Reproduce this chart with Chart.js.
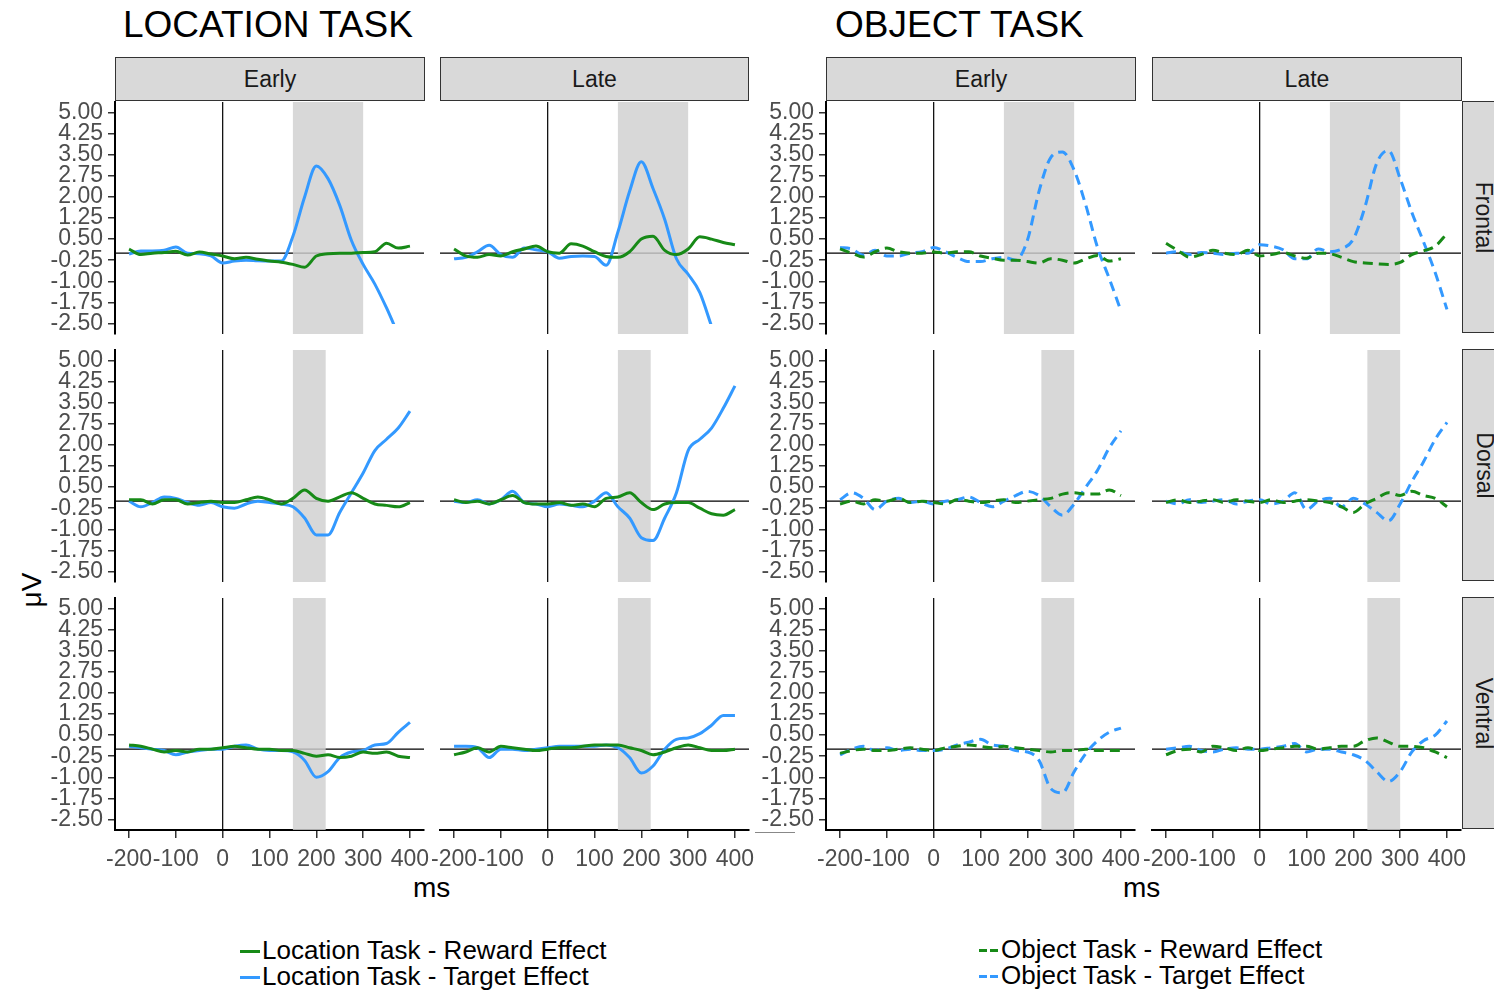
<!DOCTYPE html>
<html>
<head>
<meta charset="utf-8">
<script src="https://cdn.jsdelivr.net/npm/chart.js@4"></script>
<style>
  body { margin: 0; width: 1494px; height: 991px; overflow: hidden; background: #fff; position: relative;
         font-family: "Liberation Sans", Arial, sans-serif; }
  canvas { position: absolute; }
  .title { position: absolute; font-size: 37px; line-height: 1; color: #000; }
  .strip { position: absolute; box-sizing: border-box; background: #d9d9d9; border: 1.5px solid #333;
           font-size: 23px; color: #1a1a1a; display: flex; align-items: center; justify-content: center; }
  .rstrip span { transform: rotate(90deg); white-space: nowrap; }
  .lab { position: absolute; font-size: 28px; color: #000; line-height: 1; }
  .leg { position: absolute; font-size: 26px; color: #000; line-height: 26px; }
  .key { display: inline-block; width: 20px; height: 3px; vertical-align: middle; margin-right: 2px; position: relative; top: -1px; }
</style>
</head>
<body>
<div class="title" style="left:123px; top:6px;">LOCATION TASK</div>
<div class="title" style="left:835px; top:6px;">OBJECT TASK</div>
<div class="lab" style="left:15px; top:576px; transform: rotate(-90deg);">μV</div>
<div class="lab" style="left:413px; top:874px;">ms</div>
<div class="lab" style="left:1123px; top:874px;">ms</div>
<div style="position:absolute; left:755px; top:832px; width:40px; height:1px; background:#888;"></div>
<div class="leg" style="left:240px; top:937px;">
  <div><span class="key" style="background:#178a17"></span>Location Task - Reward Effect</div>
  <div><span class="key" style="background:#3399ff"></span>Location Task - Target Effect</div>
</div>
<div class="leg" style="left:979px; top:936px;">
  <div><span class="key" style="background:repeating-linear-gradient(to right,#178a17 0 8px,transparent 8px 11px)"></span>Object Task - Reward Effect</div>
  <div><span class="key" style="background:repeating-linear-gradient(to right,#3399ff 0 8px,transparent 8px 11px)"></span>Object Task - Target Effect</div>
</div>

<script>
// time axis (ms) and tick labels
const ms = [-200, -175, -150, -125, -100, -75, -50, -25, 0, 25, 50, 75, 100, 125, 150, 175, 200, 225, 250, 275, 300, 325, 350, 375, 400];
const xTicks = [-200, -100, 0, 100, 200, 300, 400];
const yTicks = [5.00, 4.25, 3.50, 2.75, 2.00, 1.25, 0.50, -0.25, -1.00, -1.75, -2.50];
const timeLabels = ['Early', 'Late'];
const regionLabels = ['Frontal', 'Dorsal', 'Ventral'];

// shaded analysis windows (ms)
const frontalWindow = [150, 300];
const locPostWindow = [150, 220];
const objPostWindow = [230, 300];

// Location task, frontal
const locEarlyFrontalReward = [0.14, -0.05, 0.0, 0.02, 0.07, -0.07, 0.04, -0.03, -0.1, -0.2, -0.15, -0.22, -0.28, -0.32, -0.4, -0.5, -0.1, -0.02, 0.0, 0.0, 0.02, 0.05, 0.35, 0.18, 0.25];
const locEarlyFrontalTarget = [-0.03, 0.08, 0.08, 0.1, 0.22, 0.0, -0.02, -0.1, -0.35, -0.28, -0.25, -0.27, -0.28, -0.28, 0.6, 2.0, 3.1, 2.65, 1.7, 0.45, -0.4, -1.1, -1.95, -2.9, null];
const locLateFrontalReward = [0.15, -0.1, -0.15, -0.05, -0.1, 0.05, 0.15, 0.25, 0.05, 0.0, 0.33, 0.25, 0.05, -0.12, -0.15, 0.05, 0.5, 0.6, 0.1, -0.05, 0.15, 0.58, 0.5, 0.38, 0.3];
const locLateFrontalTarget = [-0.2, -0.15, 0.05, 0.28, -0.05, -0.15, 0.18, 0.12, 0.05, -0.18, -0.12, -0.1, -0.12, -0.43, 0.75, 2.2, 3.25, 2.3, 1.2, -0.2, -0.75, -1.4, -2.6, null, null];
// Object task, frontal
const objEarlyFrontalReward = [0.15, 0.0, -0.14, 0.05, 0.18, 0.05, 0.0, 0.0, 0.04, 0.0, 0.05, 0.05, -0.1, -0.18, -0.25, -0.25, -0.3, -0.35, -0.2, -0.25, -0.35, -0.2, -0.08, -0.28, -0.2];
const objEarlyFrontalTarget = [0.2, 0.15, -0.07, 0.1, -0.1, -0.1, 0.0, 0.05, 0.2, 0.05, -0.15, -0.3, -0.3, -0.2, -0.15, -0.25, 0.45, 2.2, 3.4, 3.6, 2.95, 1.7, 0.2, -0.9, -2.05];
const objLateFrontalReward = [0.35, 0.1, -0.14, -0.05, 0.1, 0.0, -0.05, 0.1, -0.1, -0.05, 0.02, -0.1, -0.18, 0.0, -0.02, -0.15, -0.3, -0.35, -0.38, -0.4, -0.33, -0.05, 0.08, 0.25, 0.7];
const objLateFrontalTarget = [0.0, 0.05, -0.05, 0.02, 0.0, -0.05, 0.0, 0.0, 0.3, 0.25, 0.12, -0.2, -0.2, 0.15, 0.05, 0.15, 0.5, 1.65, 3.2, 3.65, 2.65, 1.45, 0.4, -0.7, -2.0];

// Location task, dorsal
const locEarlyDorsalReward = [0.05, 0.05, -0.1, 0.05, 0.05, -0.1, -0.05, 0.0, -0.05, -0.05, 0.05, 0.15, 0.05, -0.1, 0.1, 0.4, 0.1, 0.0, 0.15, 0.3, 0.1, -0.1, -0.15, -0.2, -0.05];
const locEarlyDorsalTarget = [0.0, -0.2, -0.05, 0.15, 0.1, -0.05, -0.15, -0.05, -0.2, -0.25, -0.1, 0.0, -0.05, -0.1, -0.2, -0.6, -1.2, -1.2, -0.4, 0.3, 1.0, 1.8, 2.2, 2.6, 3.2];
const locLateDorsalReward = [0.05, -0.05, 0.0, -0.1, 0.05, 0.2, -0.05, -0.1, -0.1, -0.05, -0.15, -0.1, -0.2, 0.1, 0.15, 0.3, -0.05, -0.3, -0.1, -0.05, -0.05, -0.25, -0.45, -0.5, -0.3];
const locLateDorsalTarget = [0.0, -0.05, 0.05, -0.1, 0.05, 0.35, -0.05, -0.1, -0.2, -0.1, -0.15, -0.2, 0.0, 0.3, -0.2, -0.6, -1.3, -1.4, -0.6, 0.3, 1.8, 2.2, 2.6, 3.3, 4.1];
// Object task, dorsal
const objEarlyDorsalReward = [-0.1, 0.0, -0.1, 0.05, 0.0, 0.1, -0.05, 0.0, -0.05, -0.1, 0.05, 0.0, -0.05, 0.0, 0.05, -0.05, 0.0, 0.05, 0.1, 0.25, 0.3, 0.25, 0.25, 0.4, 0.2];
const objEarlyDorsalTarget = [0.05, 0.3, 0.1, -0.3, 0.0, 0.1, -0.05, 0.0, -0.1, 0.0, 0.05, 0.15, -0.05, -0.2, 0.0, 0.2, 0.35, 0.2, -0.2, -0.5, -0.1, 0.5, 1.1, 1.9, 2.5];
const objLateDorsalReward = [-0.05, 0.05, -0.05, 0.0, 0.05, -0.05, 0.05, 0.0, -0.05, 0.05, -0.05, 0.0, 0.05, 0.0, -0.05, -0.2, -0.4, -0.1, 0.1, 0.3, 0.2, 0.35, 0.2, 0.1, -0.2];
const objLateDorsalTarget = [0.0, -0.1, 0.05, -0.05, 0.0, 0.05, -0.1, 0.0, 0.05, -0.1, 0.0, 0.3, -0.3, 0.0, 0.1, -0.2, 0.1, -0.1, -0.4, -0.7, -0.1, 0.7, 1.4, 2.2, 2.8];

// Location task, ventral
const locEarlyVentralReward = [0.15, 0.1, 0.0, -0.1, -0.05, -0.1, 0.0, 0.0, 0.05, 0.1, 0.05, 0.0, 0.0, -0.05, -0.05, -0.15, -0.25, -0.2, -0.3, -0.25, -0.1, -0.15, -0.1, -0.25, -0.3];
const locEarlyVentralTarget = [0.1, 0.05, 0.0, -0.05, -0.2, -0.1, -0.05, 0.0, 0.0, 0.1, 0.15, 0.0, -0.05, -0.05, -0.1, -0.4, -1.0, -0.8, -0.3, -0.1, -0.05, 0.15, 0.2, 0.6, 0.95];
const locLateVentralReward = [-0.2, -0.1, 0.05, -0.1, 0.1, 0.05, 0.0, -0.05, 0.0, 0.05, 0.05, 0.1, 0.15, 0.15, 0.15, 0.05, -0.05, -0.2, -0.1, 0.05, 0.15, 0.05, -0.05, -0.05, 0.0];
const locLateVentralTarget = [0.1, 0.1, 0.05, -0.3, 0.0, 0.0, -0.05, 0.0, 0.05, 0.1, 0.1, 0.1, 0.1, 0.15, 0.05, -0.3, -0.85, -0.6, 0.0, 0.35, 0.4, 0.55, 0.85, 1.2, 1.2];
// Object task, ventral
const objEarlyVentralReward = [-0.15, -0.05, 0.0, -0.05, -0.05, 0.0, 0.05, 0.0, -0.05, 0.05, 0.1, 0.15, 0.1, 0.05, 0.1, 0.05, 0.0, -0.05, -0.1, -0.05, -0.05, 0.0, -0.05, -0.05, -0.05];
const objEarlyVentralTarget = [-0.2, 0.0, 0.1, -0.05, 0.05, -0.05, 0.0, -0.05, -0.05, 0.0, 0.15, 0.25, 0.35, 0.15, 0.1, -0.05, -0.1, -0.4, -1.4, -1.55, -0.8, -0.15, 0.3, 0.6, 0.75];
const objLateVentralReward = [-0.2, -0.05, 0.0, -0.1, 0.1, 0.05, -0.05, 0.05, -0.05, 0.0, 0.05, 0.1, 0.1, 0.0, 0.05, 0.1, 0.1, 0.3, 0.4, 0.25, 0.1, 0.1, 0.05, -0.1, -0.3];
const objLateVentralTarget = [0.0, 0.05, 0.1, -0.05, -0.1, 0.0, 0.05, 0.0, 0.0, 0.05, 0.1, 0.2, -0.1, 0.0, 0.0, -0.1, -0.2, -0.4, -0.8, -1.15, -0.8, -0.1, 0.3, 0.5, 1.0];

const panels = [
  { row: 0, col: 0, reward: locEarlyFrontalReward, target: locEarlyFrontalTarget, win: frontalWindow },
  { row: 0, col: 1, reward: locLateFrontalReward, target: locLateFrontalTarget, win: frontalWindow },
  { row: 0, col: 2, reward: objEarlyFrontalReward, target: objEarlyFrontalTarget, win: frontalWindow },
  { row: 0, col: 3, reward: objLateFrontalReward, target: objLateFrontalTarget, win: frontalWindow },
  { row: 1, col: 0, reward: locEarlyDorsalReward, target: locEarlyDorsalTarget, win: locPostWindow },
  { row: 1, col: 1, reward: locLateDorsalReward, target: locLateDorsalTarget, win: locPostWindow },
  { row: 1, col: 2, reward: objEarlyDorsalReward, target: objEarlyDorsalTarget, win: objPostWindow },
  { row: 1, col: 3, reward: objLateDorsalReward, target: objLateDorsalTarget, win: objPostWindow },
  { row: 2, col: 0, reward: locEarlyVentralReward, target: locEarlyVentralTarget, win: locPostWindow },
  { row: 2, col: 1, reward: locLateVentralReward, target: locLateVentralTarget, win: locPostWindow },
  { row: 2, col: 2, reward: objEarlyVentralReward, target: objEarlyVentralTarget, win: objPostWindow },
  { row: 2, col: 3, reward: objLateVentralReward, target: objLateVentralTarget, win: objPostWindow }
];

// layout
const colLeft = [115, 440, 826, 1152];
const rowTop = [102, 350, 598];
const panelW = 309, panelH = 232;
const padL = 80, padT = 12, padR = 50, padB = 60, yAxisW = 80, xAxisH = 45;
const GREEN = '#178a17', BLUE = '#3399ff';
const tickFont = { family: '"Liberation Sans", Arial, sans-serif', size: 23 };

// strips
colLeft.forEach((left, c) => {
  const d = document.createElement('div');
  d.className = 'strip';
  d.style.cssText = `left:${left}px; top:57px; width:${c === 1 ? 309 : panelW + 1}px; height:44px;`;
  d.textContent = timeLabels[c % 2];
  document.body.appendChild(d);
});
rowTop.forEach((top, r) => {
  const d = document.createElement('div');
  d.className = 'strip rstrip';
  d.style.cssText = `left:1462px; top:${top - 1}px; width:44px; height:${panelH}px;`;
  d.innerHTML = `<span>${regionLabels[r]}</span>`;
  document.body.appendChild(d);
});

const decor = {
  id: 'decor',
  beforeDatasetsDraw(chart, args, opts) {
    const { ctx, chartArea: a, scales: { x, y } } = chart;
    ctx.save();
    ctx.strokeStyle = '#000';
    ctx.lineWidth = 1.2;
    const y0 = y.getPixelForValue(0), x0 = x.getPixelForValue(0);
    ctx.beginPath();
    ctx.moveTo(a.left, y0); ctx.lineTo(a.right, y0);
    ctx.moveTo(x0, a.top); ctx.lineTo(x0, a.bottom);
    ctx.stroke();
    const x1 = x.getPixelForValue(opts.win[0]), x2 = x.getPixelForValue(opts.win[1]);
    ctx.fillStyle = 'rgba(208,208,208,0.82)';
    ctx.fillRect(x1, a.top, x2 - x1, a.bottom - a.top);
    ctx.restore();
  }
};

panels.forEach(p => {
  const hasY = p.col === 0 || p.col === 2;
  const hasX = p.row === 2;
  const dashed = p.col >= 2;
  const cv = document.createElement('canvas');
  const W = panelW + padL + padR, H = panelH + padT + padB;
  cv.width = W; cv.height = H;
  cv.style.left = (colLeft[p.col] - padL) + 'px';
  cv.style.top = (rowTop[p.row] - padT) + 'px';
  cv.style.width = W + 'px'; cv.style.height = H + 'px';
  document.body.appendChild(cv);

  const mk = (vals, color) => ({
    data: ms.map((t, i) => ({ x: t, y: vals[i] })),
    borderColor: color,
    borderWidth: 3,
    borderDash: dashed ? [10, 6] : [],
    pointRadius: 0,
    cubicInterpolationMode: 'monotone',
    spanGaps: false,
    clip: { left: 3, right: 3, top: 3, bottom: -10 }
  });

  new Chart(cv, {
    type: 'line',
    data: { datasets: [mk(p.reward, GREEN), mk(p.target, BLUE)] },
    plugins: [decor],
    options: {
      responsive: false,
      animation: false,
      layout: { padding: { left: hasY ? padL - yAxisW : padL, top: padT, right: padR, bottom: hasX ? padB - xAxisH : padB } },
      plugins: { legend: { display: false }, tooltip: { enabled: false }, decor: { win: p.win } },
      scales: {
        x: {
          type: 'linear', min: -230, max: 430, display: hasX,
          afterBuildTicks: s => { s.ticks = xTicks.map(v => ({ value: v })); },
          afterFit: s => { if (hasX) s.height = xAxisH; s.paddingLeft = 0; s.paddingRight = 0; },
          grid: { drawOnChartArea: false, color: '#333', lineWidth: 1.5, tickLength: 8 },
          border: { color: '#000', width: 2 },
          ticks: { font: tickFont, color: '#4d4d4d', padding: 8, maxRotation: 0, autoSkip: false }
        },
        y: {
          type: 'linear', min: -2.875, max: 5.375, display: hasY,
          afterBuildTicks: s => { s.ticks = yTicks.map(v => ({ value: v })); },
          afterFit: s => { if (hasY) s.width = yAxisW; s.paddingTop = 0; s.paddingBottom = 0; },
          grid: { drawOnChartArea: false, color: '#333', lineWidth: 1.5, tickLength: 7 },
          border: { color: '#000', width: 2 },
          ticks: { font: tickFont, color: '#4d4d4d', padding: 5, autoSkip: false, callback: v => v.toFixed(2) }
        }
      }
    }
  });
});
</script>
</body>
</html>
